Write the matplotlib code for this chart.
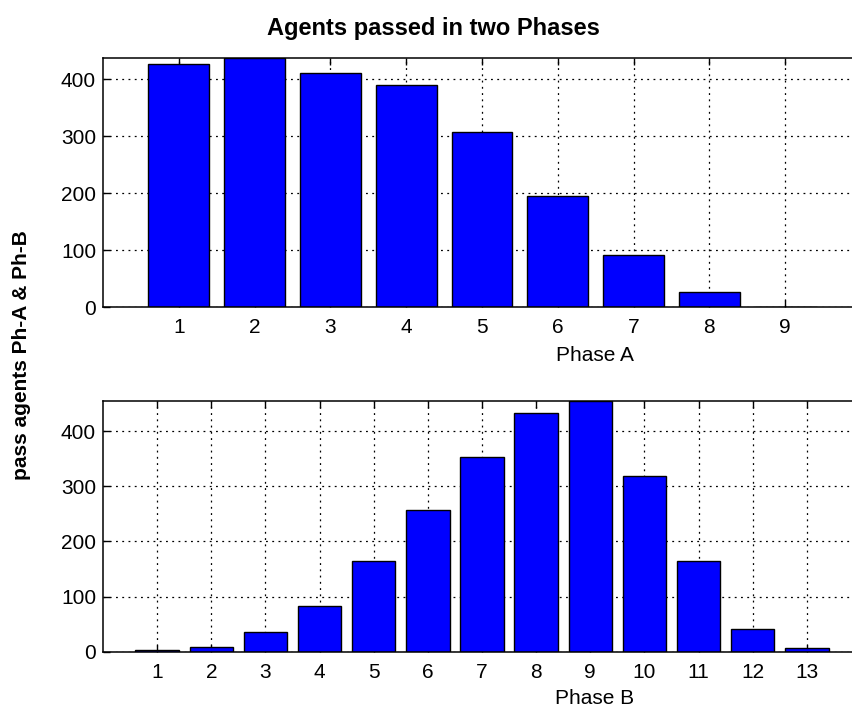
import numpy as np
import matplotlib
matplotlib.use("Agg")
import matplotlib.pyplot as plt

plt.rcParams["font.family"] = ["Liberation Sans", "DejaVu Sans"]

# bar heights
phase_a = [427, 438, 412, 390, 308, 195, 91, 26, 0]
phase_b = [3, 9, 36, 82, 164, 257, 353, 432, 455, 318, 164, 42, 6]
y_ticks = [0, 100, 200, 300, 400]

title = "Agents passed in two Phases"
ylabel = "pass agents Ph-A & Ph-B"

W, H = 853, 711
fig = plt.figure(figsize=(W / 100, H / 100), dpi=100)


def px_axes(left, top, right, bottom):
    return fig.add_axes([left / W, 1 - bottom / H, (right - left) / W, (bottom - top) / H])


def style(ax, values, xmax, label):
    x = np.arange(1, len(values) + 1)
    ax.bar(x, values, width=0.8, color="#0000ff", edgecolor="black", linewidth=1.0, zorder=2)
    ax.set_xlim(0, xmax)
    ax.set_ylim(0, max(values))
    ax.set_xticks(x)
    ax.set_yticks(y_ticks)
    ax.set_axisbelow(True)
    ax.grid(True, color="black", linestyle=(0, (1.5, 3.5)), linewidth=0.9)
    ax.tick_params(direction="in", length=5, width=1, labelsize=15,
                   top=True, right=True, colors="black")
    ax.tick_params(axis="x", pad=8)
    ax.tick_params(axis="y", pad=5)
    for s in ax.spines.values():
        s.set_linewidth(1.1)
    ax.set_xlabel(label, fontsize=15, va="center")


ax1 = px_axes(103, 57.7, 861, 307.3)
style(ax1, phase_a, 10, "Phase A")
ax1.xaxis.set_label_coords((595 - 103) / (861 - 103), -(355 - 307.3) / (307.3 - 57.7))

ax2 = px_axes(103, 400.7, 861, 651.7)
style(ax2, phase_b, 14, "Phase B")
ax2.xaxis.set_label_coords((595 - 103) / (861 - 103), -(698 - 651.7) / (651.7 - 400.7))

fig.text(433 / W, 1 - 28 / H, title, ha="center", va="center",
         fontsize=17, fontweight="bold")
fig.text(22 / W, 1 - 355 / H, ylabel, ha="center", va="center", rotation=90,
         fontsize=15, fontweight="bold")

fig.savefig("out.png", dpi=100)
